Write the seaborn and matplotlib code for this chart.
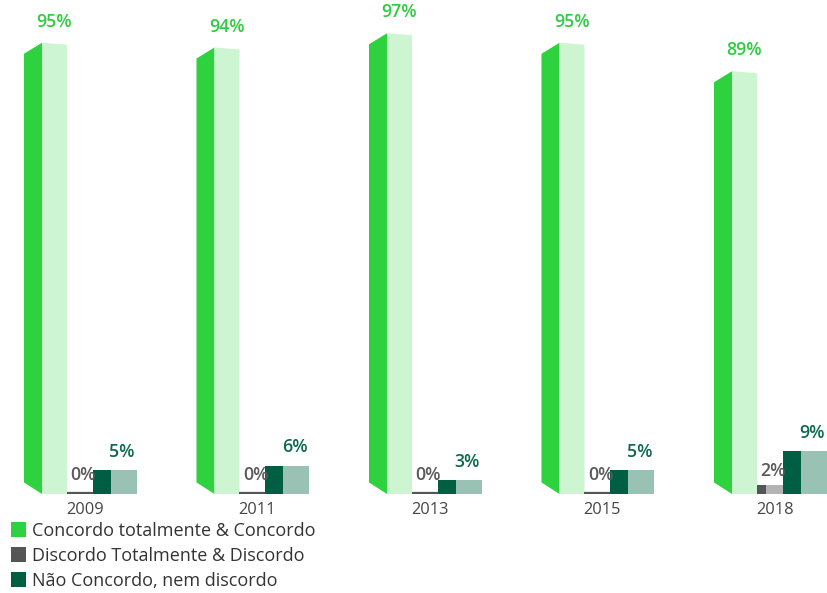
import numpy as np
import pandas as pd
import seaborn as sns
import matplotlib.pyplot as plt
from matplotlib.patches import Polygon, Patch

# Survey results per year (%)
years = ["2009", "2011", "2013", "2015", "2018"]
concordo = [95, 94, 97, 95, 89]
discordo = [0, 0, 0, 0, 2]
neutro = [5, 6, 3, 5, 9]
series = ["Concordo totalmente & Concordo",
          "Discordo Totalmente & Discordo",
          "Não Concordo, nem discordo"]

df = pd.DataFrame({
    "ano": years * 3,
    "serie": [s for s in series for _ in years],
    "valor": concordo + discordo + neutro,
})

sns.set_theme(style="white")
plt.rcParams["font.family"] = ["Open Sans", "DejaVu Sans"]

side_colors = ["#2ED13E", "#555555", "#005F43"]
front_colors = ["#CEF5D2", "#B3B3B3", "#99C1B4"]
label_colors = ["#2ECC40", "#5A5A5A", "#0B6A4F"]

W, H = 828, 593
base_px = 494
fig = plt.figure(figsize=(W / 100, H / 100), dpi=100)
ax = fig.add_axes([0, (H - base_px) / H, 1, base_px / H])

sns.barplot(data=df, x="ano", y="valor", hue="serie", order=years,
            hue_order=series, palette=side_colors, width=0.7, dodge=True,
            ax=ax, legend=False, saturation=1)

px_per_x = 172.5
ax.set_xlim(-85 / px_per_x, (W - 85) / px_per_x)
ymax = 104.0
ax.set_ylim(0, ymax)
px_to_y = ymax / base_px

# pixel extents (side face, front face) relative to each year's centre
geom = [
    ((-61, -43), (-43, -18)),
    ((-18, -9), (-9, 16)),
    ((8, 26), (26, 52)),
]
label_pad = [21, 19, 18]
label_dx = [0, -5, -2]

for k, cont in enumerate(ax.containers):
    for bar in cont:
        xc = bar.get_x() + bar.get_width() / 2
        c = round(xc)
        h = bar.get_height()
        (s0, s1), (f0, f1) = geom[k]
        s0, s1, f0, f1 = [c + v / px_per_x for v in (s0, s1, f0, f1)]
        # front face keeps the seaborn bar
        bar.set_x(f0)
        bar.set_width(f1 - f0)
        bar.set_facecolor(front_colors[k])
        bar.set_edgecolor("none")
        bar.set_zorder(2 + k)
        if h == 0:
            ax.plot([s0, f1], [0.15, 0.15], color=side_colors[k], lw=1.6,
                    solid_capstyle="butt", zorder=2 + k)
        else:
            slant = 11 * px_to_y if k == 0 else 0
            side = Polygon([(s0, slant * 1.05), (s1, 0), (s1, h),
                            (s0, h - slant)], closed=True,
                           facecolor=side_colors[k], edgecolor="none",
                           zorder=2 + k)
            ax.add_patch(side)
            if k == 0:
                bar.set_visible(False)
                front = Polygon([(f0, -0.3), (f1, -0.3), (f1, h - 0.4),
                                 (f0, h)], closed=True,
                                facecolor=front_colors[k], edgecolor="none",
                                zorder=2 + k)
                ax.add_patch(front)
        pad = label_pad[k]
        if k == 1 and h > 0:
            pad = 14
        ax.text((f0 + f1) / 2 + label_dx[k] / px_per_x,
                h + pad * px_to_y, f"{h:.0f}%",
                ha="center", va="center", fontsize=12.8, fontweight="semibold",
                color=label_colors[k], zorder=6)

sns.despine(ax=ax, left=True, bottom=True)
ax.set_yticks([])
ax.set_xlabel("")
ax.set_ylabel("")
ax.tick_params(axis="x", length=0, pad=6, labelsize=11.8, labelcolor="#444444")

handles = [Patch(facecolor=c, edgecolor="none") for c in side_colors]
fig.legend(handles, series, loc="upper left", bbox_to_anchor=(0.0, 0.138),
           frameon=False, fontsize=13, handlelength=0.85, handleheight=0.9,
           handletextpad=0.35, labelspacing=0.38, borderaxespad=0.2,
           labelcolor="#333333")

fig.savefig("out.png", dpi=100)
